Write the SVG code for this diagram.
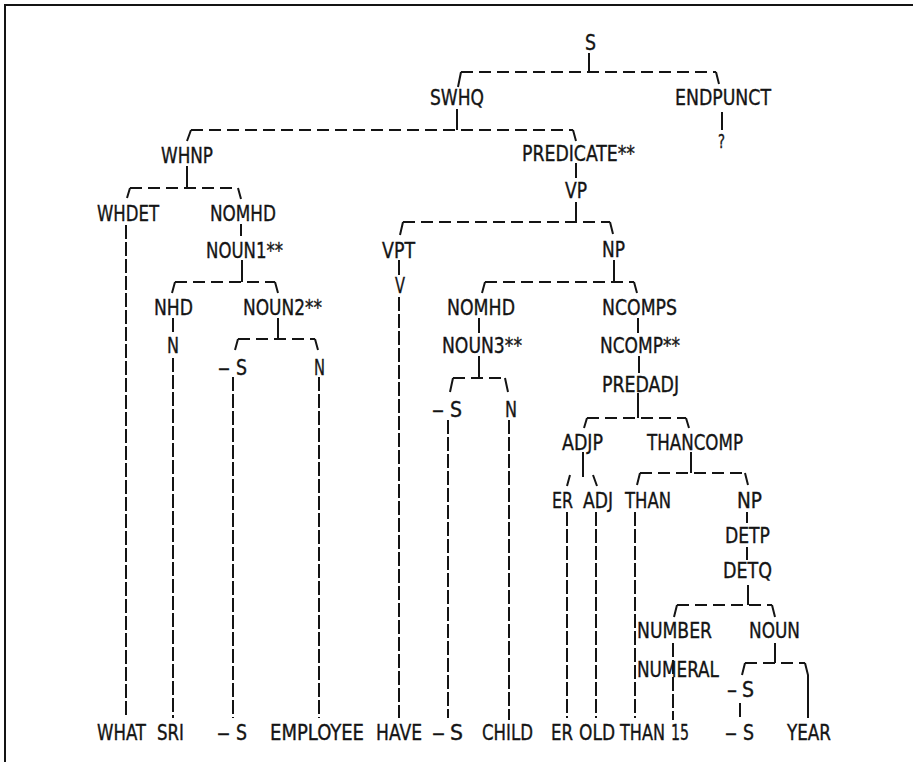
<svg xmlns="http://www.w3.org/2000/svg" width="913" height="762" viewBox="0 0 913 762">
  <style>
    .t { font-family: "DejaVu Sans Condensed", "DejaVu Sans", sans-serif; font-size: 22px; fill: #141414; stroke: #141414; stroke-width: 0.35; }
    .q { font-size: 20px; }
    .ln { stroke: #141414; stroke-width: 2; fill: none; stroke-linecap: butt; }
    .bar { stroke-dasharray: 12 6; }
    .drop { stroke-dasharray: 14 3; }
  </style>
  <rect width="913" height="762" fill="#ffffff"/>

  <!-- frame -->
  <path class="ln" d="M5 762 V5 H913" stroke-width="2.2"/>

  <!-- connectors: stems and corners solid, bars and long drops dashed -->
  <g id="connectors">
    <!-- S -->
    <path class="ln" d="M589 53 V72 M461 72 L458 87 M716 72 L719 84"/>
    <path class="ln bar" d="M461 72 H716"/>
    <!-- ENDPUNCT -> ? -->
    <path class="ln" d="M722 112 V130"/>
    <!-- SWHQ -->
    <path class="ln" d="M457 109 V130 M191 130 L187 141 M573 130 L576 141"/>
    <path class="ln bar" d="M191 130 H573"/>
    <!-- WHNP -->
    <path class="ln" d="M187 166 V188 M130 188 L127 198 M238 188 L241 199"/>
    <path class="ln bar" d="M130 188 H238"/>
    <!-- WHDET -> WHAT -->
    <path class="ln drop" d="M126 225 V718"/>
    <!-- NOMHD -> NOUN1** -->
    <path class="ln" d="M241 224 V236"/>
    <!-- PREDICATE** -> VP -->
    <path class="ln" d="M576 163 V178"/>
    <!-- VP -->
    <path class="ln" d="M576 202 V222 M403 222 L400 235 M610 222 L613 234"/>
    <path class="ln bar" d="M403 222 H610"/>
    <!-- VPT -> V -> HAVE -->
    <path class="ln" d="M399 260 V275"/>
    <path class="ln drop" d="M399 297 V718"/>
    <!-- NOUN1** -->
    <path class="ln" d="M242 260 V282 M175 282 L172 293 M275 282 L278 293"/>
    <path class="ln bar" d="M175 282 H275"/>
    <!-- NHD -> N -> SRI -->
    <path class="ln" d="M173 318 V332"/>
    <path class="ln drop" d="M173 358 V718"/>
    <!-- NOUN2** -->
    <path class="ln" d="M278 318 V339 M238 339 L235 350 M315 339 L318 350"/>
    <path class="ln bar" d="M238 339 H315"/>
    <path class="ln drop" d="M233 377 V718 M319 377 V718"/>
    <!-- NP -->
    <path class="ln" d="M614 260 V282 M485 282 L482 293 M634 282 L637 293"/>
    <path class="ln bar" d="M485 282 H634"/>
    <!-- NOMHD -> NOUN3**, NCOMPS -> NCOMP** -> PREDADJ -->
    <path class="ln" d="M479 318 V333 M638 318 V333 M639 356 V373"/>
    <!-- NOUN3** -->
    <path class="ln" d="M479 356 V378 M453 378 L450 392 M505 378 L508 392"/>
    <path class="ln bar" d="M453 378 H505"/>
    <path class="ln drop" d="M448 420 V718 M509 420 V720"/>
    <!-- PREDADJ -->
    <path class="ln" d="M638 393 V418 M587 418 L584 428 M686 418 L689 428"/>
    <path class="ln bar" d="M587 418 H686"/>
    <!-- ADJP -->
    <path class="ln" d="M583 452 V477 M570 475 L567 486 M593 475 L597 486"/>
    <!-- THANCOMP -->
    <path class="ln" d="M691 452 V473 M640 473 L637 485 M745 473 L748 485"/>
    <path class="ln bar" d="M640 473 H745"/>
    <!-- ER, ADJ, THAN drops -->
    <path class="ln drop" d="M567 512 V718 M596 512 V718 M635 512 V718"/>
    <!-- NP -> DETP -> DETQ -->
    <path class="ln" d="M747 512 V523 M747 547 V560"/>
    <!-- DETQ -->
    <path class="ln" d="M748 585 V605 M677 605 L674 617 M772 605 L775 617"/>
    <path class="ln bar" d="M677 605 H772"/>
    <!-- NUMBER -> NUMERAL -> 15 -->
    <path class="ln drop" d="M673 643 V720"/>
    <!-- NOUN -->
    <path class="ln" d="M775 643 V663 M745 663 L742 675 M805 663 L808 675 V718"/>
    <path class="ln bar" d="M745 663 H805"/>
    <!-- -S -> -S -->
    <path class="ln" d="M740 703 V717"/>
  </g>

  <!-- nodes -->
  <g id="n-s"><text class="t" x="585" y="50" textLength="11" lengthAdjust="spacingAndGlyphs">S</text></g>
  <g id="n-swhq"><text class="t" x="430" y="105" textLength="54" lengthAdjust="spacingAndGlyphs">SWHQ</text></g>
  <g id="n-endpunct"><text class="t" x="675" y="105" textLength="96" lengthAdjust="spacingAndGlyphs">ENDPUNCT</text></g>
  <g id="n-qmark"><text class="t q" x="718" y="148" textLength="7" lengthAdjust="spacingAndGlyphs">?</text></g>
  <g id="n-whnp"><text class="t" x="161" y="163" textLength="52" lengthAdjust="spacingAndGlyphs">WHNP</text></g>
  <g id="n-predicate"><text class="t" x="522" y="161" textLength="113" lengthAdjust="spacingAndGlyphs">PREDICATE**</text></g>
  <g id="n-vp"><text class="t" x="565" y="198" textLength="22" lengthAdjust="spacingAndGlyphs">VP</text></g>
  <g id="n-whdet"><text class="t" x="97" y="221" textLength="62" lengthAdjust="spacingAndGlyphs">WHDET</text></g>
  <g id="n-nomhd1"><text class="t" x="210" y="221" textLength="66" lengthAdjust="spacingAndGlyphs">NOMHD</text></g>
  <g id="n-noun1"><text class="t" x="206" y="258" textLength="77" lengthAdjust="spacingAndGlyphs">NOUN1**</text></g>
  <g id="n-vpt"><text class="t" x="382" y="258" textLength="33" lengthAdjust="spacingAndGlyphs">VPT</text></g>
  <g id="n-np1"><text class="t" x="602" y="257" textLength="23" lengthAdjust="spacingAndGlyphs">NP</text></g>
  <g id="n-v"><text class="t" x="395" y="293" textLength="10" lengthAdjust="spacingAndGlyphs">V</text></g>
  <g id="n-nhd"><text class="t" x="154" y="315" textLength="39" lengthAdjust="spacingAndGlyphs">NHD</text></g>
  <g id="n-noun2"><text class="t" x="243" y="315" textLength="79" lengthAdjust="spacingAndGlyphs">NOUN2**</text></g>
  <g id="n-nomhd2"><text class="t" x="447" y="315" textLength="68" lengthAdjust="spacingAndGlyphs">NOMHD</text></g>
  <g id="n-ncomps"><text class="t" x="602" y="315" textLength="75" lengthAdjust="spacingAndGlyphs">NCOMPS</text></g>
  <g id="n-n1"><text class="t" x="167" y="353" textLength="12" lengthAdjust="spacingAndGlyphs">N</text></g>
  <g id="n-noun3"><text class="t" x="442" y="353" textLength="80" lengthAdjust="spacingAndGlyphs">NOUN3**</text></g>
  <g id="n-ncomp"><text class="t" x="600" y="353" textLength="80" lengthAdjust="spacingAndGlyphs">NCOMP**</text></g>
  <g id="n-s1"><text class="t" y="375"><tspan x="218" textLength="12" lengthAdjust="spacingAndGlyphs">–</tspan><tspan x="236" textLength="11" lengthAdjust="spacingAndGlyphs">S</tspan></text></g>
  <g id="n-n2"><text class="t" x="314" y="375" textLength="11" lengthAdjust="spacingAndGlyphs">N</text></g>
  <g id="n-predadj"><text class="t" x="602" y="392" textLength="77" lengthAdjust="spacingAndGlyphs">PREDADJ</text></g>
  <g id="n-s2"><text class="t" y="417"><tspan x="432" textLength="12" lengthAdjust="spacingAndGlyphs">–</tspan><tspan x="450" textLength="12" lengthAdjust="spacingAndGlyphs">S</tspan></text></g>
  <g id="n-n3"><text class="t" x="505" y="417" textLength="12" lengthAdjust="spacingAndGlyphs">N</text></g>
  <g id="n-adjp"><text class="t" x="562" y="450" textLength="41" lengthAdjust="spacingAndGlyphs">ADJP</text></g>
  <g id="n-thancomp"><text class="t" x="647" y="450" textLength="96" lengthAdjust="spacingAndGlyphs">THANCOMP</text></g>
  <g id="n-er"><text class="t" x="552" y="508" textLength="21" lengthAdjust="spacingAndGlyphs">ER</text></g>
  <g id="n-adj"><text class="t" x="583" y="508" textLength="30" lengthAdjust="spacingAndGlyphs">ADJ</text></g>
  <g id="n-than"><text class="t" x="625" y="508" textLength="46" lengthAdjust="spacingAndGlyphs">THAN</text></g>
  <g id="n-np2"><text class="t" x="737" y="508" textLength="25" lengthAdjust="spacingAndGlyphs">NP</text></g>
  <g id="n-detp"><text class="t" x="725" y="543" textLength="45" lengthAdjust="spacingAndGlyphs">DETP</text></g>
  <g id="n-detq"><text class="t" x="723" y="578" textLength="49" lengthAdjust="spacingAndGlyphs">DETQ</text></g>
  <g id="n-number"><text class="t" x="637" y="638" textLength="75" lengthAdjust="spacingAndGlyphs">NUMBER</text></g>
  <g id="n-noun"><text class="t" x="749" y="638" textLength="51" lengthAdjust="spacingAndGlyphs">NOUN</text></g>
  <g id="n-numeral"><text class="t" x="637" y="677" textLength="82" lengthAdjust="spacingAndGlyphs">NUMERAL</text></g>
  <g id="n-s3"><text class="t" y="697"><tspan x="727" textLength="10" lengthAdjust="spacingAndGlyphs">–</tspan><tspan x="742" textLength="12" lengthAdjust="spacingAndGlyphs">S</tspan></text></g>

  <!-- leaves -->
  <g id="w-what"><text class="t" x="97" y="740" textLength="49" lengthAdjust="spacingAndGlyphs">WHAT</text></g>
  <g id="w-sri"><text class="t" x="157" y="740" textLength="27" lengthAdjust="spacingAndGlyphs">SRI</text></g>
  <g id="w-s1"><text class="t" y="740"><tspan x="217" textLength="13" lengthAdjust="spacingAndGlyphs">–</tspan><tspan x="236" textLength="11" lengthAdjust="spacingAndGlyphs">S</tspan></text></g>
  <g id="w-employee"><text class="t" x="270" y="740" textLength="94" lengthAdjust="spacingAndGlyphs">EMPLOYEE</text></g>
  <g id="w-have"><text class="t" x="376" y="740" textLength="46" lengthAdjust="spacingAndGlyphs">HAVE</text></g>
  <g id="w-s2"><text class="t" y="740"><tspan x="432" textLength="13" lengthAdjust="spacingAndGlyphs">–</tspan><tspan x="450" textLength="13" lengthAdjust="spacingAndGlyphs">S</tspan></text></g>
  <g id="w-child"><text class="t" x="482" y="740" textLength="51" lengthAdjust="spacingAndGlyphs">CHILD</text></g>
  <g id="w-er"><text class="t" x="551" y="740" textLength="22" lengthAdjust="spacingAndGlyphs">ER</text></g>
  <g id="w-old"><text class="t" x="579" y="740" textLength="36" lengthAdjust="spacingAndGlyphs">OLD</text></g>
  <g id="w-than"><text class="t" x="620" y="740" textLength="45" lengthAdjust="spacingAndGlyphs">THAN</text></g>
  <g id="w-15"><text class="t" x="671" y="740" textLength="18" lengthAdjust="spacingAndGlyphs">15</text></g>
  <g id="w-s3"><text class="t" y="740"><tspan x="725" textLength="12" lengthAdjust="spacingAndGlyphs">–</tspan><tspan x="743" textLength="11" lengthAdjust="spacingAndGlyphs">S</tspan></text></g>
  <g id="w-year"><text class="t" x="787" y="740" textLength="44" lengthAdjust="spacingAndGlyphs">YEAR</text></g>
</svg>
